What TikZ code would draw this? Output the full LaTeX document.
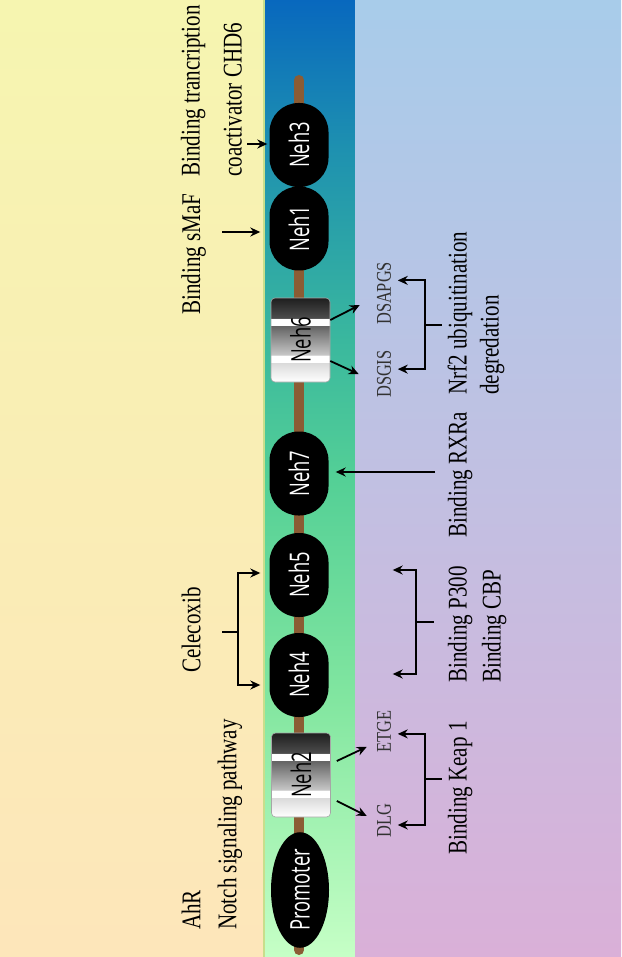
\documentclass[tikz,border=0pt]{standalone}
\usepackage{fontspec}
\setmainfont{Liberation Serif}[FakeStretch=0.78]
\newfontfamily\domainfont{Open Sans}[FakeStretch=0.68]
\usetikzlibrary{arrows.meta,positioning,calc,shapes.geometric}

\definecolor{chainbrown}{RGB}{139,92,52}
\definecolor{leftA}{RGB}{246,245,176}
\definecolor{leftB}{RGB}{253,230,186}
\definecolor{midA}{RGB}{8,104,190}
\definecolor{midB}{RGB}{30,145,176}
\definecolor{midC}{RGB}{58,184,158}
\definecolor{midD}{RGB}{84,208,150}
\definecolor{midE}{RGB}{130,230,160}
\definecolor{midF}{RGB}{198,255,198}
\definecolor{rightA}{RGB}{168,204,234}
\definecolor{rightB}{RGB}{193,192,226}
\definecolor{rightC}{RGB}{218,176,216}
\definecolor{stripedge}{RGB}{200,222,140}
\definecolor{sitegray}{RGB}{50,50,50}

% vertical shadings: 25bp = bottom, 75bp = top
\pgfdeclareverticalshading{leftpanel}{100bp}{color(0bp)=(leftB); color(25bp)=(leftB); color(75bp)=(leftA); color(100bp)=(leftA)}
\pgfdeclareverticalshading{midstrip}{100bp}{color(0bp)=(midF); color(25bp)=(midF); color(38.4bp)=(midE); color(49.9bp)=(midD); color(57.2bp)=(midC); color(67.2bp)=(midB); color(75bp)=(midA); color(100bp)=(midA)}
\pgfdeclareverticalshading{rightpanel}{100bp}{color(0bp)=(rightC); color(25bp)=(rightC); color(50bp)=(rightB); color(75bp)=(rightA); color(100bp)=(rightA)}
\pgfdeclareverticalshading{motifbox}{100bp}{color(0bp)=(white); color(25bp)=(white); color(36.8bp)=(black!15); color(36.9bp)=(white); color(41bp)=(white); color(41.1bp)=(black!22); color(58.8bp)=(black!62); color(58.9bp)=(white); color(63bp)=(white); color(63.1bp)=(black!70); color(75bp)=(black!88); color(100bp)=(black!88)}

\newcommand{\vtxt}[1]{\rotatebox{90}{#1}}

\begin{document}
\begin{tikzpicture}[x=1pt, y=-1pt,
    wire/.style={line width=1.8pt},
    arr/.style={wire, -{Stealth[length=10pt,width=9pt]}},
    nehoval/.style={fill=black, rounded corners=29pt, minimum width=59pt, minimum height=84pt,
        inner sep=0pt, text=white, font=\domainfont\fontsize{27}{27}\selectfont},
    nehbox/.style={shading=motifbox, draw=black!35, line width=0.6pt, rounded corners=4pt,
        minimum width=59pt, minimum height=84pt, inner sep=0pt, font=\domainfont\fontsize{27}{27}\selectfont},
    note/.style={rotate=90, anchor=west, inner sep=0pt, align=left, font=\fontsize{27}{36}\selectfont},
    motiflabel/.style={rotate=90, anchor=west, inner sep=0pt, text=sitegray, font=\fontsize{21}{21}\selectfont}]

\useasboundingbox (0,0) rectangle (621,957);

% background panels
\fill[shading=leftpanel] (0,0) rectangle (264,957);
\fill[shading=midstrip] (264,0) rectangle (355,957);
\fill[shading=rightpanel] (355,0) rectangle (621,957);
\draw[stripedge, line width=1.5pt] (264,0) -- (264,957);

% protein backbone
\coordinate (chaintop) at (299,80);
\coordinate (chainbot) at (299,950);
\draw[chainbrown, line width=10pt, line cap=round] (chaintop) -- (chainbot);

% domains
\node[nehoval] (neh3) at (299,145) {\vtxt{Neh3}};
\node[nehoval] (neh1) at (299,228.5) {\vtxt{Neh1}};
\node[nehbox] (neh6) at (300.5,340) {\vtxt{Neh6}};
\node[nehoval] (neh7) at (299,473.5) {\vtxt{Neh7}};
\node[nehoval] (neh5) at (299,575) {\vtxt{Neh5}};
\node[nehoval] (neh4) at (299,675) {\vtxt{Neh4}};
\node[nehbox] (neh2) at (301,775) {\vtxt{Neh2}};
\node[nehoval, ellipse, sharp corners, minimum width=58pt, minimum height=100pt] (promoter) at (300,890) {\vtxt{Promoter}};

% labels, left side
\node[note, font=\fontsize{27}{42}\selectfont] (chd6) at (211.4,177) {Binding trancription\\coactivator CHD6};
\node[note] (smaf) at (193.7,315) {Binding sMaF};
\node[note] (celecoxib) at (191.2,673) {Celecoxib};
\node[note] (ahr) at (212,930) {AhR\\Notch signaling pathway};

% labels, right side
\node[note, font=\fontsize{27}{32}\selectfont] (nrf2) at (476,395) {Nrf2 ubiquitination\\degredation};
\node[note] (rxra) at (460.2,538) {Binding RXRa};
\node[note, font=\fontsize{27}{34}\selectfont] (p300) at (477.2,683) {Binding P300\\Binding CBP};
\node[note] (keap) at (460.2,855) {Binding Keap 1};

% motif labels
\node[motiflabel] (dsapgs) at (384,325) {DSAPGS};
\node[motiflabel] (dsgis) at (384,398) {DSGIS};
\node[motiflabel] (etge) at (384,753) {ETGE};
\node[motiflabel] (dlg) at (384,838) {DLG};

% arrows into the domains
\coordinate (chdin) at (247,144);
\coordinate (smafin) at (222,232);
\coordinate (rxrain) at (435,472);
\draw[arr, shorten >=2pt] (chdin) -- (chdin -| neh3.west);
\draw[arr, shorten >=9pt] (smafin) -- (smafin -| neh1.west);
\draw[arr, shorten >=7pt] (rxrain) -- (rxrain -| neh7.east);

% Celecoxib bracket
\coordinate (celj) at (238,632);
\draw[wire, shorten >=21pt] (celj) -- (celj -| celecoxib.south);
\draw[arr, shorten >=9pt] (celj) |- ([yshift=2pt]neh5.west);
\draw[arr, shorten >=9pt] (celj) |- ([yshift=-10pt]neh4.west);

% Neh6 and Neh2 motifs
\draw[arr] ([yshift=20pt]neh6.east) -- ([shift={(-17pt,20pt)}]dsapgs.north west);
\draw[arr] ([yshift=-21pt]neh6.east) -- ([xshift=-18pt]dsgis.north);
\draw[arr] ([shift={(6pt,14pt)}]neh2.east) -- ([shift={(-10pt,-15pt)}]etge.north);
\draw[arr] ([shift={(6pt,-26pt)}]neh2.east) -- ([shift={(-10pt,5pt)}]dlg.north);

% brackets on the right
\coordinate (nrfj) at (425,325);
\draw[wire, shorten >=5pt] (nrfj) -- (nrfj -| nrf2.north);
\draw[arr, shorten >=6.5pt] (nrfj) |- ([yshift=13pt]dsapgs.south);
\draw[arr, shorten >=6.5pt] (nrfj) |- ([yshift=5pt]dsgis.south);

\coordinate (p300j) at (416,622);
\draw[wire, shorten >=14pt] (p300j) -- (p300j -| p300.north);
\draw[arr, shorten >=64pt] (p300j) |- ([yshift=5pt]neh5.east);
\draw[arr, shorten >=64pt] (p300j) |- ([yshift=1pt]neh4.east);

\coordinate (keapj) at (425,779);
\draw[wire, shorten >=6pt] (keapj) -- (keapj -| keap.north);
\draw[arr, shorten >=6.5pt] (keapj) |- ([yshift=-2pt]etge.south);
\draw[arr, shorten >=6.5pt] (keapj) |- ([yshift=-4pt]dlg.south);
\end{tikzpicture}
\end{document}
